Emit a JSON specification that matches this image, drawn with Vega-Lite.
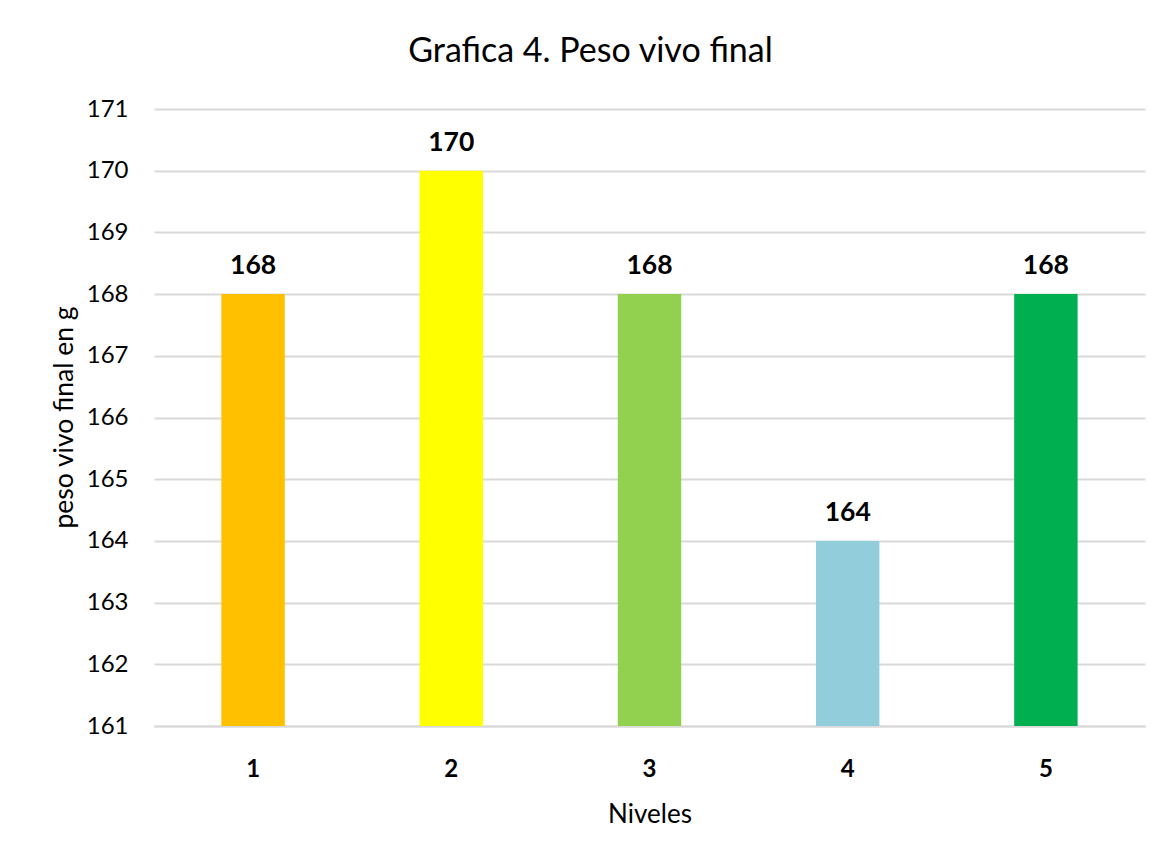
{
  "$schema": "https://vega.github.io/schema/vega-lite/v6.json",
  "width": 991,
  "height": 617,
  "autosize": {"type": "none"},
  "padding": {"left": 154, "top": 109, "right": 16, "bottom": 130},
  "background": "white",
  "title": {
    "text": "Grafica 4. Peso vivo final",
    "font": "Lato",
    "fontSize": 34,
    "fontWeight": "normal",
    "color": "#000000",
    "anchor": "middle",
    "dx": -59,
    "offset": 28
  },
  "data": {
    "values": [
      {"nivel": "1", "peso": 168, "color": "#FFC000"},
      {"nivel": "2", "peso": 170, "color": "#FFFF00"},
      {"nivel": "3", "peso": 168, "color": "#92D050"},
      {"nivel": "4", "peso": 164, "color": "#92CDDC"},
      {"nivel": "5", "peso": 168, "color": "#00B050"}
    ]
  },
  "encoding": {
    "x": {
      "field": "nivel",
      "type": "ordinal",
      "scale": {"paddingInner": 0.68, "paddingOuter": 0.34},
      "axis": {
        "title": "Niveles",
        "titleFont": "Lato",
        "titleFontSize": 26,
        "titleFontWeight": "normal",
        "titleColor": "#000000",
        "titleBaseline": "alphabetic",
        "titleY": 96,
        "labelFont": "Lato",
        "labelFontSize": 24,
        "labelFontWeight": "bold",
        "labelColor": "#000000",
        "labelAngle": 0,
        "labelBaseline": "alphabetic",
        "labelPadding": 50,
        "ticks": false,
        "domain": true,
        "domainColor": "#D9D9D9",
        "domainWidth": 2,
        "grid": false
      }
    }
  },
  "layer": [
    {
      "mark": {"type": "bar"},
      "encoding": {
        "y": {
          "field": "peso",
          "type": "quantitative",
          "scale": {"domain": [161, 171], "zero": false, "nice": false},
          "axis": {
            "title": "peso vivo final en g",
            "titleFont": "Lato",
            "titleFontSize": 26.5,
            "titleFontWeight": "normal",
            "titleColor": "#000000",
            "titleAngle": -90,
            "titleBaseline": "alphabetic",
            "titleAlign": "center",
            "titleX": -82,
            "titleY": 308,
            "format": "d",
            "labelFont": "Lato",
            "labelFontSize": 24,
            "labelColor": "#000000",
            "labelPadding": 26,
            "labelOverlap": false,
            "values": [161, 162, 163, 164, 165, 166, 167, 168, 169, 170, 171],
            "ticks": false,
            "domain": false,
            "grid": true,
            "gridColor": "#D9D9D9",
            "gridWidth": 2
          }
        },
        "y2": {"datum": 161},
        "color": {"field": "color", "type": "nominal", "scale": null}
      }
    },
    {
      "mark": {
        "type": "text",
        "font": "Lato",
        "fontSize": 26.5,
        "fontWeight": "bold",
        "color": "#000000",
        "baseline": "alphabetic",
        "dy": -20
      },
      "encoding": {
        "y": {"field": "peso", "type": "quantitative"},
        "text": {"field": "peso", "type": "quantitative"}
      }
    }
  ],
  "config": {
    "view": {"stroke": null}
  }
}
